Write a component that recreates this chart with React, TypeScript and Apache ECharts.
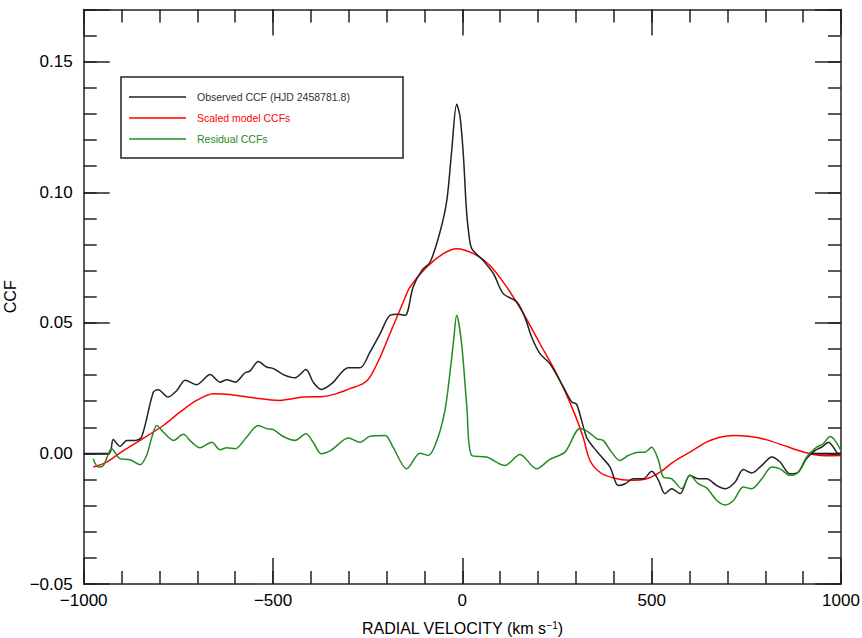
import React, { useEffect, useRef } from "react";
import * as echarts from "echarts";

// Observed CCF (black)
const obsV = [-1000,-933,-922,-904,-886,-865,-847,-816,-803,-777,-754,-732,-702,-666,-640,-622,-600,-574,-561,-539,-517,-499,-473,-442,-413,-394,-373,-345,-301,-270,-244,-217,-191,-169,-151,-130,-107,-85,-59,-41,-28,-15,-6,3,10,16,25,55,82,108,144,165,183,205,231,267,289,302,328,346,368,390,412,430,451,478,500,518,535,553,575,601,623,645,672,694,720,742,764,791,817,839,865,887,909,931,949,967,980,993,1000];
const obsY = [0,0,0.0053,0.0027,0.0050,0.0050,0.0063,0.0235,0.0244,0.0216,0.0241,0.0280,0.0263,0.0302,0.0273,0.0282,0.0273,0.0309,0.0315,0.0352,0.0331,0.0325,0.0302,0.0290,0.0321,0.0273,0.0245,0.0267,0.0328,0.0328,0.0388,0.0459,0.0529,0.0533,0.0529,0.0637,0.0701,0.0733,0.0848,0.0969,0.1161,0.1337,0.1289,0.1135,0.0950,0.0854,0.0784,0.0739,0.0689,0.0612,0.0580,0.0522,0.0446,0.0382,0.0344,0.0254,0.0197,0.0188,0.0062,0.0024,-0.0014,-0.0052,-0.0123,-0.0116,-0.0097,-0.0097,-0.0068,-0.0103,-0.0154,-0.0135,-0.0154,-0.0084,-0.0097,-0.0097,-0.0123,-0.0135,-0.0110,-0.0062,-0.0075,-0.0046,-0.0014,-0.0033,-0.0078,-0.0072,-0.0020,0.0011,0.0024,0.0043,0.0024,0,0];

// Scaled model CCFs (red)
const modelV = [-975,-939,-895,-851,-790,-746,-702,-658,-614,-552,-482,-420,-367,-332,-297,-262,-244,-217,-191,-156,-138,-94,-50,-15,29,73,117,161,205,249,293,319,337,364,399,443,487,522,557,601,645,680,716,760,804,848,892,927,962,1000];
const modelY = [-0.0052,-0.0033,0.0011,0.0050,0.0107,0.0158,0.0203,0.0229,0.0226,0.0213,0.0203,0.0216,0.0218,0.0229,0.0248,0.0267,0.0292,0.0369,0.0459,0.0580,0.0638,0.0714,0.0765,0.0784,0.0765,0.0720,0.0638,0.0536,0.0420,0.0305,0.0164,0.0062,-0.0027,-0.0073,-0.0094,-0.0103,-0.0097,-0.0072,-0.0033,0.0005,0.0043,0.0062,0.0069,0.0065,0.0052,0.0031,0.0009,-0.0004,-0.0009,-0.0008];

// Residual CCFs (green)
const resV = [-975,-961,-948,-926,-904,-878,-851,-834,-820,-807,-790,-763,-737,-715,-693,-662,-640,-622,-600,-570,-539,-517,-499,-473,-442,-413,-394,-373,-345,-301,-270,-244,-204,-182,-147,-112,-90,-67,-46,-33,-23,-15,-2,12,25,64,113,152,196,231,271,311,333,355,372,394,416,438,465,482,500,518,531,553,579,601,623,645,672,694,716,742,764,791,817,839,865,887,909,936,953,971,984,1000];
const resY = [-0.0020,-0.0052,-0.0046,0.0018,-0.0020,-0.0024,-0.0043,-0.0008,0.0062,0.0107,0.0082,0.0050,0.0073,0.0043,0.0022,0.0043,0.0014,0.0022,0.0018,0.0062,0.0107,0.0095,0.0091,0.0065,0.0050,0.0075,0.0043,-0.0001,0.0014,0.0059,0.0043,0.0066,0.0069,0.0021,-0.0059,0.0001,-0.0008,0.0050,0.0165,0.0305,0.0433,0.0529,0.0421,0.0177,-0.0008,-0.0014,-0.0046,-0.0004,-0.0059,-0.0023,0.0005,0.0095,0.0082,0.0056,0.0050,0.0005,-0.0027,-0.0008,0.0005,0.0005,0.0024,-0.0027,-0.0091,-0.0097,-0.0135,-0.0084,-0.0116,-0.0132,-0.0180,-0.0197,-0.0180,-0.0129,-0.0135,-0.0097,-0.0052,-0.0059,-0.0084,-0.0072,-0.0014,0.0024,0.0037,0.0065,0.0050,0.0011];

// zero baseline stub at right edge
const zeroV = [918, 1000];
const zeroY = [0, 0];

const legendNames = ["Observed CCF (HJD 2458781.8)", "Scaled model CCFs", "Residual CCFs"];
const colors = ["#222222", "#ff0000", "#228b22"];

const X_MIN = -1000, X_MAX = 1000, Y_MIN = -0.05, Y_MAX = 0.17;
const FONT = '"Liberation Sans", Arial, Helvetica, sans-serif';
const AX = "#222222";

const zip = (a: number[], b: number[]) => a.map((v, i) => [v, b[i]]);
const minus = (s: string) => s.replace("-", "\u2212");

export default function App() {
  const ref = useRef<HTMLDivElement>(null);
  useEffect(() => {
    if (!ref.current) return;
    const chart = echarts.init(ref.current, null, { renderer: "svg" });
    const line = { color: AX, width: 1.5 };
    const xMajor = (pos: string, labels: boolean) => ({
      type: "value", min: X_MIN, max: X_MAX, interval: 500, position: pos,
      axisLine: { show: true, onZero: false, lineStyle: line },
      axisTick: { show: true, inside: true, length: 26, lineStyle: line },
      axisLabel: labels ? { show: true, fontSize: 17, color: "#000", fontFamily: FONT, margin: 8,
        formatter: (v: number) => minus(String(v)) } : { show: false },
      splitLine: { show: false },
      ...(labels ? {
        name: "{a|RADIAL VELOCITY (km s}{s|\u22121}{a|)}",
        nameLocation: "middle", nameGap: 36,
        nameTextStyle: { fontFamily: FONT, color: "#000", fontSize: 16,
          rich: { a: { fontSize: 16, fontFamily: FONT, color: "#000" },
                  s: { fontSize: 10, fontFamily: FONT, color: "#000", verticalAlign: "top" } } },
      } : {}),
    });
    const xMinor = (pos: string) => ({
      type: "value", min: X_MIN, max: X_MAX, interval: 100, position: pos,
      axisLine: { show: false, onZero: false },
      axisTick: { show: true, inside: true, length: 13, lineStyle: line },
      axisLabel: { show: false }, splitLine: { show: false },
    });
    const yMajor = (pos: string, labels: boolean) => ({
      type: "value", min: Y_MIN, max: Y_MAX, interval: 0.05, position: pos,
      axisLine: { show: true, onZero: false, lineStyle: line },
      axisTick: { show: true, inside: true, length: 26, lineStyle: line },
      axisLabel: labels ? { show: true, fontSize: 17, color: "#000", fontFamily: FONT, margin: 11,
        formatter: (v: number) => Math.abs(Math.round(v * 100) % 5) === 0 ? minus(v.toFixed(2)) : "" } : { show: false },
      splitLine: { show: false },
      ...(labels ? { name: "CCF", nameLocation: "middle", nameGap: 50,
        nameTextStyle: { fontFamily: FONT, color: "#000", fontSize: 16 } } : {}),
    });
    const yMinor = (pos: string) => ({
      type: "value", min: Y_MIN, max: Y_MAX, interval: 0.01, position: pos,
      axisLine: { show: false, onZero: false },
      axisTick: { show: true, inside: true, length: 13, lineStyle: line },
      axisLabel: { show: false }, splitLine: { show: false },
    });

    const legendY = [97, 118, 139];
    const graphic: any[] = [
      { type: "rect", shape: { x: 121, y: 77, width: 282, height: 81 },
        style: { fill: "#fff", stroke: AX, lineWidth: 1.5 }, z: 100 },
    ];
    legendNames.forEach((n, i) => {
      graphic.push({ type: "line", shape: { x1: 129, y1: legendY[i], x2: 186, y2: legendY[i] },
        style: { stroke: colors[i], lineWidth: 1.5 }, z: 101 });
      graphic.push({ type: "text", x: 197, y: legendY[i],
        style: { text: n, fill: i === 0 ? "#333" : colors[i], fontSize: 10.5, fontFamily: FONT, verticalAlign: "middle" }, z: 101 });
    });

    const mk = (name: string, data: number[][], color: string) => ({
      name, type: "line", xAxisIndex: 0, yAxisIndex: 0, data, showSymbol: false, symbol: "none",
      smooth: 0.3, lineStyle: { color, width: 1.5 }, itemStyle: { color },
    });

    chart.setOption({
      animation: false,
      backgroundColor: "#fff",
      grid: { left: 83.7, top: 9.5, right: 21, bottom: 54, containLabel: false, outerBoundsMode: "none" },
      xAxis: [xMajor("bottom", true), xMinor("bottom"), xMajor("top", false), xMinor("top")],
      yAxis: [yMajor("left", true), yMinor("left"), yMajor("right", false), yMinor("right")],
      graphic,
      series: [
        mk(legendNames[1], zip(modelV, modelY), colors[1]),
        mk(legendNames[0], zip(obsV, obsY), colors[0]),
        { ...mk("zero", zip(zeroV, zeroY), colors[0]), smooth: false },
        mk(legendNames[2], zip(resV, resY), colors[2]),
      ],
    });
    return () => chart.dispose();
  }, []);
  return <div ref={ref} style={{ position: "fixed", left: 0, top: 0, width: 862, height: 638 }} />;
}
